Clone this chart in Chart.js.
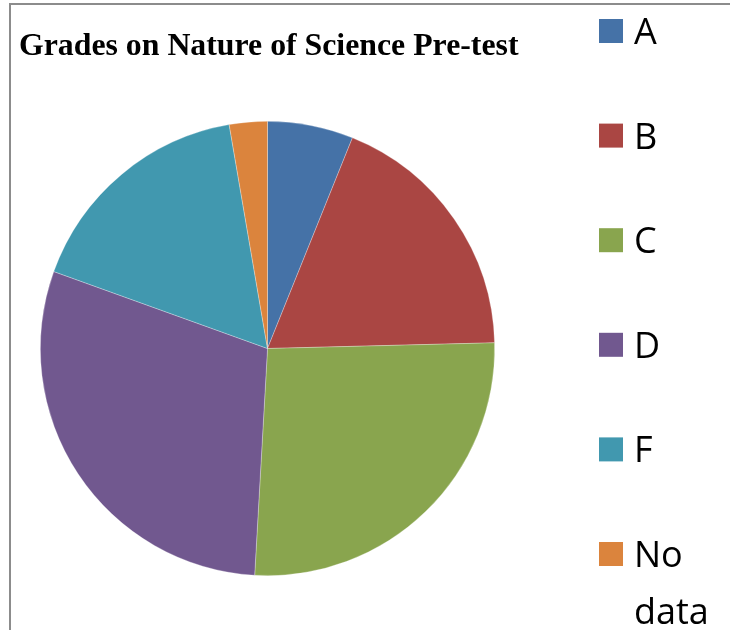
<!DOCTYPE html>
<html>
<head>
<meta charset="utf-8">
<script src="https://cdn.jsdelivr.net/npm/chart.js@4.4.1/dist/chart.umd.min.js"></script>
<style>
  html, body { margin: 0; padding: 0; background: #fff; }
  #wrap { position: relative; width: 730px; height: 630px; }
</style>
</head>
<body>
<div id="wrap"><canvas id="c-pie" width="730" height="630"></canvas></div>
<script>
// grade categories and share of students (percent)
const grades = ['A', 'B', 'C', 'D', 'F', 'No data'];
const shares = [6.1, 18.5, 26.3, 29.6, 16.8, 2.7];
const colors = ['#4572a7', '#aa4643', '#89a54e', '#71588f', '#4198af', '#db843d'];
const chartTitle = 'Grades on Nature of Science Pre-test';

// frame, title and right-hand legend drawn straight onto the canvas
const decor = {
  id: 'decor',
  afterDraw(chart) {
    const ctx = chart.ctx;
    ctx.save();
    // grey frame lines (top + left)
    ctx.strokeStyle = '#8c8c8c';
    ctx.lineWidth = 2;
    ctx.beginPath();
    ctx.moveTo(10, 630);
    ctx.lineTo(10, 4);
    ctx.lineTo(730, 4);
    ctx.stroke();

    // title
    ctx.fillStyle = '#000';
    ctx.font = 'bold 31.8px "Liberation Serif", "Times New Roman", serif';
    ctx.textBaseline = 'alphabetic';
    ctx.textAlign = 'left';
    ctx.fillText(chartTitle, 19, 55);

    // legend
    ctx.font = '36px "Open Sans", sans-serif';
    const labels = chart.data.labels;
    const bg = chart.data.datasets[0].backgroundColor;
    labels.forEach((lab, i) => {
      const cy = 31 + i * 104.6;
      ctx.fillStyle = bg[i];
      ctx.fillRect(599, cy - 12, 24, 24);
      ctx.fillStyle = '#000';
      const parts = lab.split(' ');
      parts.forEach((p, j) => {
        ctx.fillText(p, 634, cy + 13 + j * 57);
      });
    });
    ctx.restore();
  }
};

new Chart(document.getElementById('c-pie'), {
  type: 'pie',
  data: {
    labels: grades,
    datasets: [{ data: shares, backgroundColor: colors, borderColor: 'rgba(255,255,255,0.4)', borderWidth: 0.7 }]
  },
  options: {
    responsive: false,
    animation: false,
    layout: { padding: { left: 40, right: 235, top: 121, bottom: 54 } },
    plugins: { legend: { display: false }, tooltip: { enabled: false } }
  },
  plugins: [decor]
});
</script>
</body>
</html>
